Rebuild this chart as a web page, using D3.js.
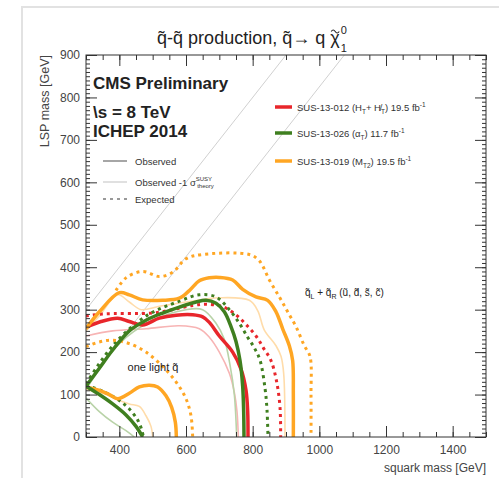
<!DOCTYPE html>
<html>
<head>
<meta charset="utf-8">
<script src="https://cdn.jsdelivr.net/npm/d3@7"></script>
<style>
  body { margin: 0; background: #fff; }
  svg { display: block; font-family: 'Liberation Sans', Arial, Helvetica, sans-serif; }
</style>
</head>
<body>
<svg id="chart" width="499" height="478"></svg>
<script>
// squark mass vs LSP mass contours, [m_squark, m_LSP] in GeV
// 8 degenerate squarks (uL,dL,sL,cL + R)
var redObs8 = [[300,258],[345,272],[395,280],[430,272],[470,264],[520,280],[570,287],[620,288],[650,283],[670,270],[700,238],[740,200],[765,160],[780,110],[785,60],[786,0]];
var redObsM8 = [[300,238],[380,250],[480,255],[580,262],[640,255],[670,235],[700,200],[730,150],[745,105],[753,60],[757,0]];
var redExp8 = [[300,285],[350,290],[500,292],[560,300],[620,310],[660,313],[710,307],[750,288],[780,265],[810,238],[832,210],[855,180],[872,130],[882,70],[884,0]];

var greenObs8 = [[300,120],[340,162],[380,205],[430,250],[480,275],[530,292],[580,306],[630,318],[660,322],[690,315],[715,295],[735,260],[750,225],[762,180],[770,120],[773,60],[774,0]];
var greenObsM8 = [[300,112],[400,220],[500,275],[600,300],[650,300],[690,268],[715,230],[732,170],[745,100],[752,0]];
var greenExp8 = [[300,125],[380,215],[480,285],[580,320],[640,335],[690,330],[730,300],[760,268],[785,235],[805,210],[822,181],[837,115],[843,64],[846,0]];

var orangeObs8 = [[300,255],[340,295],[400,340],[430,335],[470,323],[530,322],[580,327],[610,345],[640,368],[670,375],[700,376],[740,370],[770,348],[810,330],[845,322],[870,295],[890,255],[910,215],[920,180],[922,100],[922,0]];
var orangeObsM8 = [[300,250],[340,285],[395,335],[430,318],[465,300],[520,308],[600,318],[700,328],[790,322],[815,298],[835,252],[870,215],[885,190],[893,150],[897,0]];
var orangeExp8 = [[390,345],[420,375],[470,390],[520,378],[560,388],[600,420],[650,430],[790,430],[820,415],[850,370],[880,330],[905,295],[930,260],[955,215],[972,190],[975,100],[975,0]];

// one light squark
var greenObs1 = [[300,120],[340,100],[380,78],[420,52],[450,25],[470,0]];
var greenObsM1 = [[300,92],[340,60],[380,35],[420,15],[445,0]];
var greenExp1 = [[300,122],[350,108],[400,86],[430,66],[455,40],[468,15],[472,0]];

var orangeObs1 = [[300,118],[340,110],[370,100],[395,90],[430,103],[460,118],[490,122],[515,118],[540,97],[557,70],[568,35],[571,0]];
var orangeObsM1 = [[300,112],[360,100],[395,88],[430,78],[460,72],[480,50],[495,25],[500,0]];
var orangeExp1 = [[300,213],[340,224],[380,228],[430,220],[480,200],[530,166],[570,130],[600,90],[615,50],[620,0]];

// kinematic reference lines: m_LSP = m_squark - offset
var diagOffsets = [0, 175];

var xTicks = [400, 600, 800, 1000, 1200, 1400];
var yTicks = [0, 100, 200, 300, 400, 500, 600, 700, 800, 900];

var svg = d3.select('#chart');

var red = '#e8262b', green = '#3f7f1f', orange = '#ffa623';
var redLight = '#f7b4b4', greenLight = '#b9d3a8', orangeLight = '#ffdcaa';

var x = d3.scaleLinear().domain([300, 1500]).range([86, 486]);
var y = d3.scaleLinear().domain([0, 900]).range([437, 55]);

// outer light frame
svg.append('path')
	.attr('d', 'M22,478 L22,7 L499,7')
	.attr('fill', 'none')
	.attr('stroke', '#e2e2e2')
	.attr('stroke-width', 2);

svg.append('clipPath').attr('id', 'clip')
	.append('rect')
	.attr('x', 86).attr('y', 55)
	.attr('width', 400).attr('height', 382);

var plot = svg.append('g').attr('clip-path', 'url(#clip)');

// diagonal lines
diagOffsets.forEach(function(off) {
	plot.append('line')
		.attr('x1', x(300)).attr('y1', y(300 - off))
		.attr('x2', x(900 + off)).attr('y2', y(900))
		.attr('stroke', '#d0d0d0')
		.attr('stroke-width', 1);
});

var line = d3.line()
	.x(d => x(d[0]))
	.y(d => y(d[1]))
	.curve(d3.curveCatmullRom.alpha(0.5));

var drawContour = function(data, color, width, dash) {
	plot.append('path')
		.datum(data)
		.attr('d', line)
		.attr('fill', 'none')
		.attr('stroke', color)
		.attr('stroke-width', width)
		.attr('stroke-dasharray', dash ? '3,4' : null)
		.attr('stroke-linejoin', 'round');
};

// thin -1 sigma lines
drawContour(redObsM8, redLight, 1.6);
drawContour(greenObsM8, greenLight, 1.6);
drawContour(orangeObsM8, orangeLight, 1.6);
drawContour(greenObsM1, greenLight, 1.6);
drawContour(orangeObsM1, orangeLight, 1.6);

// expected
drawContour(orangeExp8, orange, 3, true);
drawContour(redExp8, red, 3, true);
drawContour(greenExp8, green, 3, true);
drawContour(orangeExp1, orange, 3, true);
drawContour(greenExp1, green, 3, true);

// observed
drawContour(redObs8, red, 3.5);
drawContour(orangeObs8, orange, 3.5);
drawContour(orangeObs1, orange, 3.5);
drawContour(greenObs8, green, 3.5);
drawContour(greenObs1, green, 3.5);

// axes
var addAxis = function(axis, tx, ty, labels) {
	var g = svg.append('g')
		.attr('transform', 'translate(' + tx + ',' + ty + ')')
		.call(axis);
	g.select('.domain').remove();
	g.selectAll('line').attr('stroke', '#333');
	g.selectAll('text')
		.attr('fill', '#444')
		.attr('font-size', 12)
		.attr('font-family', "'Liberation Sans', Arial, sans-serif");
	if (!labels) g.selectAll('text').remove();
	return g;
};

var xMinor = d3.range(300, 1501, 50);
var yMinor = d3.range(0, 901, 10);
var fmt = d3.format('d');

addAxis(d3.axisBottom(x).tickValues(xMinor).tickSize(-5).tickFormat(''), 0, 437, false);
addAxis(d3.axisBottom(x).tickValues(xTicks).tickSize(-11).tickPadding(8).tickFormat(fmt), 0, 437, true);
addAxis(d3.axisTop(x).tickValues(xMinor).tickSize(-5), 0, 55, false);
addAxis(d3.axisTop(x).tickValues(xTicks).tickSize(-11), 0, 55, false);

addAxis(d3.axisLeft(y).tickValues(yMinor).tickSize(-4).tickFormat(''), 86, 0, false);
addAxis(d3.axisLeft(y).tickValues(yTicks).tickSize(-11).tickPadding(6).tickFormat(fmt), 86, 0, true);
addAxis(d3.axisRight(y).tickValues(yMinor).tickSize(-4), 486, 0, false);
addAxis(d3.axisRight(y).tickValues(yTicks).tickSize(-11), 486, 0, false);

svg.append('rect')
	.attr('x', 86).attr('y', 55)
	.attr('width', 400).attr('height', 382)
	.attr('fill', 'none')
	.attr('stroke', '#333')
	.attr('stroke-width', 1);

// axis titles
svg.append('text')
	.attr('x', 486).attr('y', 472)
	.attr('text-anchor', 'end')
	.attr('font-size', 12)
	.attr('fill', '#444')
	.text('squark mass [GeV]');

svg.append('text')
	.attr('transform', 'translate(49,55) rotate(-90)')
	.attr('text-anchor', 'end')
	.attr('font-size', 12.5)
	.attr('fill', '#444')
	.text('LSP mass [GeV]');

// title, the tilde over chi is a small path
var titleG = svg.append('g').attr('fill', '#222');
var title = titleG.append('text')
	.attr('x', 0).attr('y', 44)
	.attr('font-size', 18);
title.append('tspan').text('q\u0303-q\u0303 production,  q\u0303\u2192 q ');
var chi = title.append('tspan').text('\u03c7');
title.append('tspan').attr('font-size', 11).attr('dx', 1).attr('dy', -10).text('0');
title.append('tspan').attr('font-size', 11).attr('dx', -6).attr('dy', 18).text('1');
var cb = chi.node().getBBox();
var cx = cb.x + cb.width / 2, cy = cb.y + 2;
titleG.append('path')
	.attr('d', 'M' + (cx - 4) + ',' + (cy + 1.5) + ' q2,-3 4,0 t4,0')
	.attr('fill', 'none')
	.attr('stroke', '#222')
	.attr('stroke-width', 1.1);
var tw = title.node().getBBox().width;
titleG.attr('transform', 'translate(' + (252 - tw / 2) + ',0)');

// CMS label
var cms = svg.append('g')
	.attr('font-weight', 'bold')
	.attr('font-size', 17)
	.attr('fill', '#222');
cms.append('text').attr('x', 93).attr('y', 89).text('CMS Preliminary');
cms.append('text').attr('x', 93).attr('y', 118).text('\\s = 8 TeV');
cms.append('text').attr('x', 93).attr('y', 137).text('ICHEP 2014');

// line style legend
var styles = [
	{ label: 'Observed', y: 161, color: '#888', width: 1.5, dash: null },
	{ label: 'Observed -1 \u03c3', y: 182, color: '#ccc', width: 1.2, dash: null },
	{ label: 'Expected', y: 199, color: '#999', width: 2, dash: '3,4' }
];
styles.forEach(function(s, i) {
	svg.append('line')
		.attr('x1', 103).attr('x2', 127)
		.attr('y1', s.y).attr('y2', s.y)
		.attr('stroke', s.color)
		.attr('stroke-width', s.width)
		.attr('stroke-dasharray', s.dash);
	var t = svg.append('text')
		.attr('x', 135).attr('y', s.y + 3.5)
		.attr('font-size', 9.5)
		.attr('fill', '#333');
	t.append('tspan').text(s.label);
	if (i == 1) {
		t.append('tspan').attr('font-size', 6).attr('dy', -5).text('SUSY');
		t.append('tspan').attr('font-size', 6).attr('dx', -15).attr('dy', 7).text('theory');
	}
});

// analysis legend
var analyses = [
	{ color: red, y: 107, parts: [['SUS-13-012  (H', 0], ['T', 1], ['+ H\u0338', 0], ['T', 1], [')  19.5 fb', 0], ['-1', -1]] },
	{ color: green, y: 133, parts: [['SUS-13-026  (\u03b1', 0], ['T', 1], [')  11.7 fb', 0], ['-1', -1]] },
	{ color: orange, y: 161, parts: [['SUS-13-019  (M', 0], ['T2', 1], [')  19.5 fb', 0], ['-1', -1]] }
];
analyses.forEach(function(a) {
	svg.append('line')
		.attr('x1', 275).attr('x2', 292)
		.attr('y1', a.y).attr('y2', a.y)
		.attr('stroke', a.color)
		.attr('stroke-width', 3.5);
	var t = svg.append('text')
		.attr('x', 297).attr('y', a.y + 3.5)
		.attr('font-size', 9.5)
		.attr('fill', '#333');
	var shift = 0;
	a.parts.forEach(function(p) {
		var target = p[1] == 1 ? 3 : (p[1] == -1 ? -4 : 0);
		t.append('tspan')
			.attr('font-size', p[1] == 0 ? 9.5 : 6.5)
			.attr('dy', target - shift)
			.text(p[0]);
		shift = target;
	});
});

// region labels
svg.append('text')
	.attr('x', 153).attr('y', 371)
	.attr('text-anchor', 'middle')
	.attr('font-size', 11)
	.attr('fill', '#222')
	.text('one light q\u0303');

var reg = svg.append('text')
	.attr('x', 305).attr('y', 296)
	.attr('font-size', 10)
	.attr('fill', '#222');
reg.append('tspan').text('q\u0303');
reg.append('tspan').attr('font-size', 7).attr('dy', 3).text('L');
reg.append('tspan').attr('dy', -3).text(' + q\u0303');
reg.append('tspan').attr('font-size', 7).attr('dy', 3).text('R');
reg.append('tspan').attr('dy', -3).text(' (u\u0303, d\u0303, s\u0303, c\u0303)');
</script>
</body>
</html>
